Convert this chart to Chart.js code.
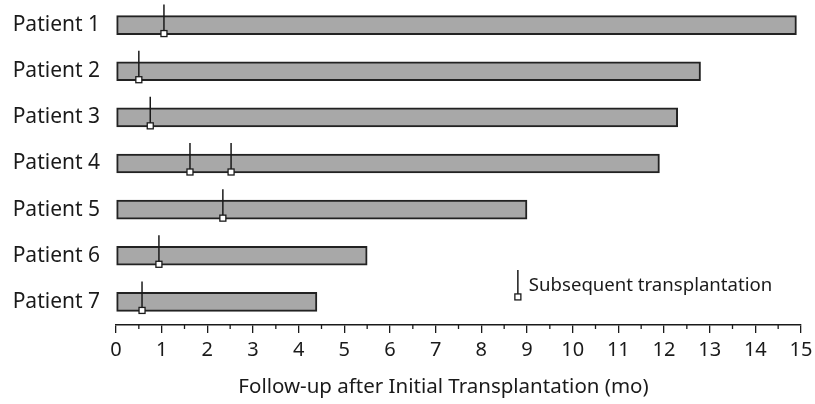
<!DOCTYPE html>
<html>
<head>
<meta charset="utf-8">
<script src="https://cdn.jsdelivr.net/npm/chart.js@4"></script>
<style>
  html, body { margin: 0; padding: 0; background: #fff; }
  #wrap { width: 815px; height: 404px; }
</style>
</head>
<body>
<div id="wrap"><canvas id="chart" width="815" height="404"></canvas></div>
<script>
const patients = ['Patient 1', 'Patient 2', 'Patient 3', 'Patient 4', 'Patient 5', 'Patient 6', 'Patient 7'];
const followUp = [14.9, 12.8, 12.3, 11.9, 9.0, 5.5, 4.4];
// months at which a subsequent transplantation took place
const transplants = [[1.05], [0.5], [0.75], [1.62, 2.52], [2.34], [0.94], [0.57]];
const xTicks = [0, 1, 2, 3, 4, 5, 6, 7, 8, 9, 10, 11, 12, 13, 14, 15];
const legendText = 'Subsequent transplantation';
const xTitle = 'Follow-up after Initial Transplantation (mo)';

const font = '"Noto Sans", "DejaVu Sans", sans-serif';
const ink = '#1a1a1a';

function marker(ctx, x, yTop, yBot) {
  ctx.save();
  ctx.strokeStyle = ink;
  ctx.lineWidth = 1.5;
  ctx.beginPath();
  ctx.moveTo(x, yTop);
  ctx.lineTo(x, yBot);
  ctx.stroke();
  ctx.fillStyle = '#fff';
  ctx.lineWidth = 1.3;
  ctx.fillRect(x - 3, yBot - 3, 6, 6);
  ctx.strokeRect(x - 3, yBot - 3, 6, 6);
  ctx.restore();
}

const transplantMarks = {
  id: 'transplantMarks',
  afterDatasetsDraw(chart) {
    const ctx = chart.ctx;
    const xs = chart.scales.x;
    const area = chart.chartArea;
    const meta = chart.getDatasetMeta(0);
    transplants.forEach((times, i) => {
      const bar = meta.data[i];
      const half = bar.height / 2;
      times.forEach(t => {
        const x = xs.getPixelForValue(t);
        marker(ctx, x, bar.y - half - 11, bar.y + half - 1);
      });
    });

    // minor ticks at half months
    ctx.save();
    ctx.strokeStyle = ink;
    ctx.lineWidth = 1.3;
    for (let i = 0; i < xTicks.length - 1; i++) {
      const x = xs.getPixelForValue((xTicks[i] + xTicks[i + 1]) / 2);
      ctx.beginPath();
      ctx.moveTo(x, area.bottom);
      ctx.lineTo(x, area.bottom + 4);
      ctx.stroke();
    }
    ctx.restore();

    // legend
    const lx = xs.getPixelForValue(8.8);
    const ly = meta.data[6].y;
    marker(ctx, lx, ly - 32, ly - 5);
    ctx.save();
    ctx.fillStyle = ink;
    ctx.font = '18.6px ' + font;
    ctx.textBaseline = 'middle';
    ctx.fillText(legendText, lx + 11, ly - 16);

    // axis title (sits a bit left of the plot centre)
    ctx.font = '20.5px ' + font;
    ctx.textAlign = 'center';
    ctx.fillText(xTitle, (area.left + area.right) / 2 - 15, area.bottom + 62);
    ctx.restore();
  }
};

new Chart(document.getElementById('chart'), {
  type: 'bar',
  data: {
    labels: patients,
    datasets: [{
      data: followUp,
      backgroundColor: '#a8a8a8',
      borderColor: '#222',
      borderWidth: 2,
      borderSkipped: false,
      barThickness: 19
    }]
  },
  options: {
    indexAxis: 'y',
    responsive: false,
    animation: false,
    layout: { padding: { top: 2, right: 14, left: 0, bottom: 0 } },
    plugins: { legend: { display: false }, tooltip: { enabled: false } },
    scales: {
      x: {
        type: 'linear',
        min: 0,
        max: 15,
        afterBuildTicks(scale) { scale.ticks = xTicks.map(v => ({ value: v })); },
        afterFit(scale) {
          scale.height = 79;
          scale.paddingLeft = 0;
          scale.paddingRight = 0;
        },
        grid: { drawOnChartArea: false, drawTicks: true, tickLength: 8, color: ink, lineWidth: 1.3 },
        border: { display: true, color: ink, width: 1.5 },
        ticks: { color: ink, font: { family: font, size: 20 }, padding: 5, maxRotation: 0, autoSkip: false }
      },
      y: {
        afterFit(scale) {
          scale.width = 116;
          scale.paddingTop = 0;
          scale.paddingBottom = 0;
        },
        grid: { display: false, drawTicks: false },
        border: { display: false },
        ticks: { color: ink, font: { family: font, size: 21 }, padding: 16 }
      }
    }
  },
  plugins: [transplantMarks]
});
</script>
</body>
</html>
